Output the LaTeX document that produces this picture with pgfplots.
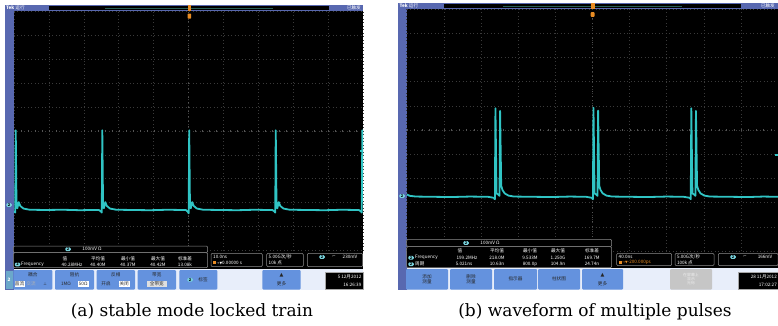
\documentclass[border=0pt]{standalone}
\usepackage{pgfplots}
\pgfplotsset{compat=1.18}
\usepackage{fontspec}
\setmainfont{Liberation Sans}
\newfontfamily\cjk{Noto Sans CJK SC}
\newfontfamily\capfont{DejaVu Serif}
\newfontfamily\dvs{DejaVu Sans}
\definecolor{tekblue}{RGB}{88,104,176}
\definecolor{btnblue}{RGB}{100,146,222}
\definecolor{barbg}{RGB}{232,238,250}
\definecolor{trace}{RGB}{48,196,196}
\definecolor{chip}{RGB}{120,210,220}
\definecolor{tekorange}{RGB}{232,140,36}
\definecolor{boxgray}{RGB}{140,140,140}
\definecolor{gridgray}{RGB}{58,58,58}
\definecolor{tickgray}{RGB}{85,85,85}
\definecolor{lineteal}{RGB}{40,95,85}
\newcommand\ui{\cjk\fontsize{4.6}{5.4}\selectfont}
\newcommand\uis{\cjk\fontsize{3.9}{4.4}\selectfont}
\pgfplotsset{tekscope/.style={scale only axis, xmin=0, xmax=10, ymin=-5, ymax=5,
  xtick={0,...,10}, ytick={-5,...,5}, xticklabels={}, yticklabels={},
  major tick length=0pt, grid=major,
  major grid style={gridgray, line width=0.5pt, dash pattern=on 0.6pt off 2.9pt},
  axis line style={draw=none}, clip=true}}
\tikzset{t/.style={font=\ui, text=white, inner sep=0pt},
  b/.style={font=\ui, text=black!85, inner sep=0pt, align=center},
  rbox/.style={draw=boxgray, line width=0.5pt, fill=black, rounded corners=1.2pt},
  ch/.style={fill=chip, rounded corners=1.3pt, inner sep=0.3pt, minimum width=5.5pt, minimum height=3.8pt, font=\uis\bfseries, text=black}}
\begin{document}
\begin{tikzpicture}[x=1pt,y=-1pt]
\path[use as bounding box] (0,0) rectangle (778,325);
\fill[white] (0,0) rectangle (778,325);
% ================= panel (a) =================
\fill[tekblue] (5,5) rectangle (14,290);
\fill[tekblue] (5,5) rectangle (363,11);
\fill[black] (49,5.8) rectangle (329,10.4);
\draw[lineteal, line width=0.8pt] (105,8.1) -- (273,8.1);
\fill[black] (14,11) rectangle (363,269.3);
\node[t, anchor=west] at (6,8) {\textbf{Tek} 运行};
\node[t, anchor=east] at (361,8) {已触发};
\begin{axis}[tekscope, at={(14pt,-250.3pt)}, anchor=south west, width=349pt, height=238.6pt]
\draw[tickgray, line width=1.2pt, dash pattern=on 0.5pt off 6.48pt] (axis cs:0,0) -- (axis cs:10,0);
\draw[tickgray, line width=1.2pt, dash pattern=on 0.5pt off 4.27pt] (axis cs:5,-5) -- (axis cs:5,5);
\addplot[trace, line width=1.8pt, line join=round, no markers] coordinates {
(0,-3.36) (0.035,-3.42) (0.05,0.03) (0.072,-3.12) (0.095,-3.24) (0.135,-2.98) (0.18,-3.14) (0.27,-3.25) (0.45,-3.30)
(0.9,-3.31) (1.4,-3.30) (1.9,-3.32) (2.2,-3.31)
(2.43,-3.31) (2.49,-3.37) (2.515,-3.42) (2.53,0.03) (2.552,-3.12) (2.575,-3.24) (2.615,-2.98) (2.66,-3.14) (2.75,-3.25) (2.93,-3.30)
(3.4,-3.31) (3.9,-3.32) (4.4,-3.30) (4.8,-3.31)
(4.92,-3.31) (4.98,-3.38) (5.005,-3.45) (5.02,0.03) (5.042,-3.12) (5.065,-3.24) (5.105,-2.98) (5.15,-3.14) (5.24,-3.25) (5.42,-3.30)
(5.9,-3.31) (6.4,-3.32) (6.9,-3.30) (7.25,-3.31)
(7.40,-3.31) (7.46,-3.37) (7.485,-3.42) (7.50,0.03) (7.522,-3.12) (7.545,-3.24) (7.585,-2.98) (7.63,-3.14) (7.72,-3.25) (7.90,-3.30)
(8.4,-3.31) (8.9,-3.32) (9.4,-3.30) (9.78,-3.31)
(9.88,-3.31) (9.94,-3.37) (9.965,-3.42) (9.98,0.03) (10.0,-2.0)
};
\end{axis}
% trigger markers
\fill[tekorange] (187.6,5.4) rectangle (191,10.6);
\fill[tekorange, rounded corners=0.6pt] (187.6,13.6) rectangle (191,18.6);
\fill[trace] (360,149.6) rectangle (363,152);
\node[ch] at (9,205) {2};
% readouts
\draw[rbox] (13.3,246) rectangle (207.7,252.7);
\node[ch] at (68,249.3) {2};
\node[t] at (92,249.3) {100mV Ω};
\draw[rbox] (13.3,252.7) rectangle (207.7,267.7);
\foreach \x/\s in {65/值, 98/平均值, 128/最小值, 158/最大值, 185/标准差} \node[t] at (\x,258.3) {\s};
\node[ch] at (17.5,264.5) {2};
\node[t, anchor=west] at (21,264.5) {Frequency};
\foreach \x/\s in {72/40.28MHz, 98/40.40M, 128/40.37M, 158/40.42M, 185/13.08k} \node[t] at (\x,264.5) {\s};
\draw[rbox] (211,253.3) rectangle (262.3,266.7);
\node[t, anchor=west] at (213,257) {10.0ns};
\fill[tekorange] (213,261.3) rectangle (216,264.3);
\node[t, anchor=west] at (216.5,262.8) {\dvs\fontsize{3.4}{4}\selectfont →▼\cjk\fontsize{4.6}{5}\selectfont 0.00000 s};
\draw[rbox] (266.7,253.3) rectangle (303.3,266.7);
\node[t, anchor=west] at (268.5,257) {5.00G次/秒};
\node[t, anchor=west] at (268.5,262.8) {10k 点};
\draw[rbox] (307.3,253.3) rectangle (362.7,266.7);
\node[ch] at (322,257) {2};
\node[t] at (334,257) {\dvs\fontsize{4}{4}\selectfont ⌐};
\node[t] at (350,257) {230mV};
% bottom bar
\fill[barbg] (14,269.3) rectangle (363,290);
\fill[chip!60!tekblue] (5.5,271) rectangle (12.5,289);
\node[t, font=\ui\bfseries] at (9,280) {2};
\foreach \a/\c in {13.3/52.3, 55/94, 96.7/135, 137.7/176, 179.3/217.3, 262.3/300.7}
  \fill[btnblue, rounded corners=1pt] (\a,270) rectangle (\c,289.5);
\node[b] at (32.8,274.5) {耦合};
\fill[white] (14.5,280.8) rectangle (24.5,287.2);
\node[b] at (19.5,284) {直流};
\node[b, text=gray!60] at (31,284) {交流};
\node[b] at (45,284) {\dvs\fontsize{4}{4}\selectfont ⊥};
\node[b] at (74.5,274.5) {阻抗};
\node[b] at (66,284) {1MΩ};
\fill[white] (77.5,280.8) rectangle (89,287.2);
\node[b] at (83.2,284) {50Ω};
\node[b] at (115.8,274.5) {反相};
\node[b] at (106,284) {开启};
\fill[white] (118.5,280.8) rectangle (130,287.2);
\node[b] at (124.2,284) {关闭};
\node[b] at (156.8,274.5) {带宽};
\fill[gray!25] (147,280.8) rectangle (166.5,287.2);
\node[b] at (156.8,284) {全带宽};
\node[ch] at (190,279.7) {2};
\node[b] at (203,279.7) {标签};
\node[b] at (281.5,275.5) {\dvs\fontsize{5}{5}\selectfont ▲};
\node[b] at (281.5,283.5) {更多};
\fill[black] (325,272.5) rectangle (362.7,289.5);
\draw[gray!70] (325,272.5) rectangle (362.7,289.5);
\node[t, anchor=east] at (361.5,277) {5 12月2012};
\node[t, anchor=east] at (361.5,285) {16:26:39};
\node[font=\capfont\fontsize{17}{20}\selectfont, anchor=base] at (192,316.7) {(a) stable mode locked train};
% ================= panel (b) =================
\fill[tekblue] (398,3) rectangle (406.7,290);
\fill[tekblue] (398,3) rectangle (778,9);
\fill[black] (444,3.8) rectangle (741,8.4);
\draw[lineteal, line width=0.8pt] (503,6.1) -- (682,6.1);
\fill[black] (406.7,9) rectangle (778,268.3);
\node[t, anchor=west] at (399.5,6) {\textbf{Tek} 运行};
\node[t, anchor=east] at (775,6) {已触发};
\begin{axis}[tekscope, at={(406.7pt,-251pt)}, anchor=south west, width=371.3pt, height=242pt]
\draw[tickgray, line width=1.2pt, dash pattern=on 0.5pt off 6.93pt] (axis cs:0,0) -- (axis cs:10,0);
\draw[tickgray, line width=1.2pt, dash pattern=on 0.5pt off 4.34pt] (axis cs:5,-5) -- (axis cs:5,5);
\addplot[trace, line width=1.8pt, line join=round, no markers] coordinates {
(0,-2.66) (0.08,-2.72) (0.25,-2.75) (0.7,-2.76) (1.2,-2.77) (1.7,-2.75) (2.19,-2.76)
(2.34,-2.80) (2.375,-2.86) (2.39,0.90) (2.42,-2.62) (2.46,-2.66) (2.50,-2.72) (2.515,0.79) (2.545,-2.30) (2.58,-2.48) (2.64,-2.62) (2.74,-2.71) (2.89,-2.75)
(3.4,-2.76) (3.9,-2.77) (4.4,-2.75) (4.83,-2.76)
(4.98,-2.80) (5.015,-2.86) (5.03,0.92) (5.06,-2.62) (5.10,-2.66) (5.14,-2.72) (5.155,0.80) (5.185,-2.30) (5.22,-2.48) (5.28,-2.62) (5.38,-2.71) (5.53,-2.75)
(6.0,-2.76) (6.5,-2.77) (7.0,-2.75) (7.46,-2.76)
(7.615,-2.80) (7.65,-2.86) (7.665,0.90) (7.695,-2.62) (7.735,-2.66) (7.775,-2.72) (7.79,0.79) (7.82,-2.30) (7.855,-2.48) (7.915,-2.62) (8.015,-2.71) (8.165,-2.75)
(8.7,-2.76) (9.2,-2.77) (9.6,-2.75) (10,-2.76)
};
\end{axis}
\fill[tekorange] (590.7,3.4) rectangle (594.5,8.6);
\fill[tekorange, rounded corners=0.6pt] (590.7,12.2) rectangle (594.5,16.8);
\fill[trace] (775,153.8) rectangle (778,156.2);
\node[ch] at (402,196) {2};
% readouts
\draw[rbox] (406.7,239.3) rectangle (611.7,246.7);
\node[ch] at (466,243) {2};
\node[t] at (490,243) {100mV Ω};
\draw[rbox] (406.7,246.7) rectangle (611.7,267.7);
\foreach \x/\s in {460/值, 497/平均值, 530/最小值, 558/最大值, 592/标准差} \node[t] at (\x,251.2) {\s};
\node[ch] at (411,257.8) {2};
\node[t, anchor=west] at (415,257.8) {Frequency};
\foreach \x/\s in {467/199.2MHz, 497/218.0M, 530/9.533M, 558/1.250G, 592/169.7M} \node[t] at (\x,257.8) {\s};
\node[ch] at (411,264.2) {2};
\node[t, anchor=west] at (415,264.2) {周期};
\foreach \x/\s in {464/5.021ns, 497/10.63n, 530/800.0p, 558/104.9n, 592/24.74n} \node[t] at (\x,264.2) {\s};
\draw[rbox] (616.7,253.3) rectangle (671.7,265.7);
\node[t, anchor=west] at (618.5,256.6) {40.0ns};
\fill[tekorange] (618.5,260.8) rectangle (621.5,263.8);
\node[t, anchor=west, text=tekorange] at (622,262.4) {\dvs\fontsize{3.4}{4}\selectfont →▼\cjk\fontsize{4.6}{5}\selectfont -200.000ps};
\draw[rbox] (675,253.3) rectangle (714,265.7);
\node[t, anchor=west] at (676.8,256.6) {5.00G次/秒};
\node[t, anchor=west] at (676.8,262.4) {100k 点};
\draw[rbox] (718.3,253.3) rectangle (778,265.7);
\node[ch] at (733,257) {2};
\node[t] at (745,257) {\dvs\fontsize{4}{4}\selectfont ⌐};
\node[t] at (765,257) {166mV};
% bottom bar
\fill[barbg] (406.7,268.3) rectangle (778,290);
\foreach \a/\c in {406/448, 450/492, 494/537, 538/580, 582/623}
  \fill[btnblue, rounded corners=1pt] (\a,269) rectangle (\c,289.5);
\node[b] at (427,279) {添加\\测量};
\node[b] at (471,279) {删除\\测量};
\node[b] at (515.5,279) {指示器};
\node[b] at (559,279) {柱状图};
\node[b] at (602.5,275.5) {\dvs\fontsize{5}{5}\selectfont ▲};
\node[b] at (602.5,283.5) {更多};
\fill[gray!45, rounded corners=1pt] (670,269) rectangle (712,289.5);
\node[b, font=\uis, text=gray!15] at (691,279) {在屏幕上\\显示\\光标};
\fill[black] (738,272) rectangle (778,289.5);
\draw[gray!70] (738,272) rectangle (778,289.5);
\node[t, anchor=east] at (777,276.5) {28 11月2012};
\node[t, anchor=east] at (777,284.8) {17:02:27};
\node[font=\capfont\fontsize{17}{20}\selectfont, anchor=base] at (595,316.7) {(b) waveform of multiple pulses};
\end{tikzpicture}
\end{document}
